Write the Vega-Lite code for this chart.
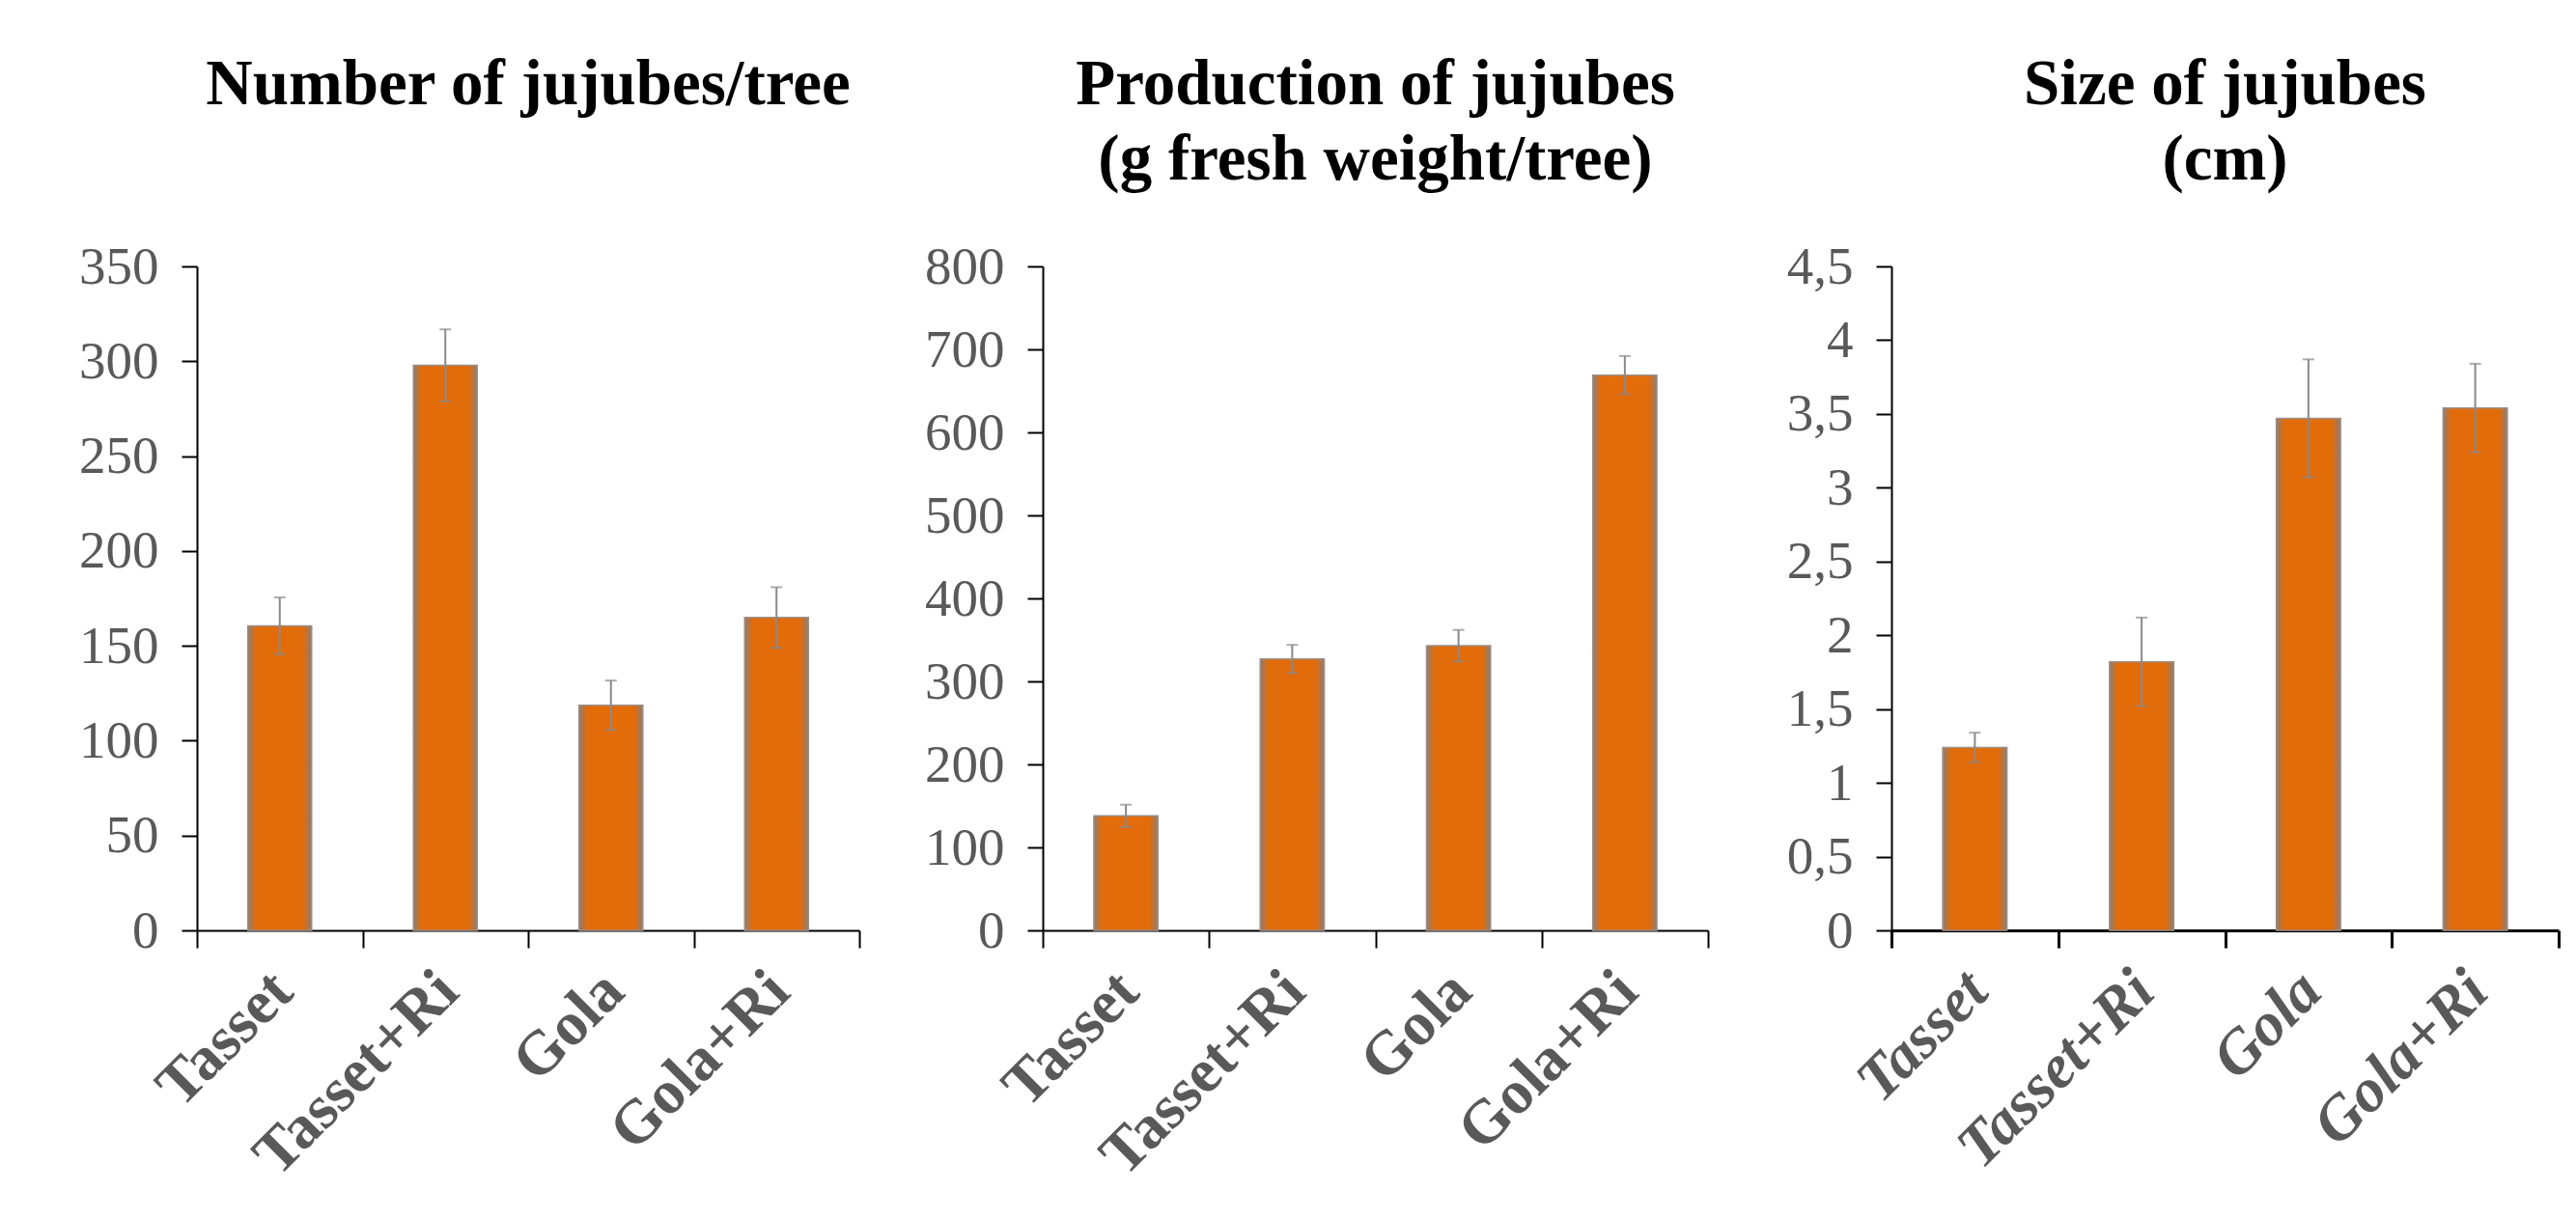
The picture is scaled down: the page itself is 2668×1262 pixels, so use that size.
{
  "$schema": "https://vega.github.io/schema/vega-lite/v6.json",
  "background": "white",
  "padding": {"left": 81, "top": 54, "right": 10, "bottom": 0},
  "spacing": 190,
  "bounds": "flush",
  "config": {
    "view": {"stroke": null},
    "font": "Liberation Serif",
    "title": {"fontSize": 67, "fontWeight": "bold", "color": "#000000", "font": "Liberation Serif", "lineHeight": 78, "frame": "group", "anchor": "middle", "baseline": "bottom", "offset": 49},
    "axis": {"grid": false, "title": null, "labelFont": "Liberation Serif", "labelColor": "#595959", "domainColor": "#000000", "tickColor": "#000000", "labelOverlap": false, "labelLimit": 1000},
    "axisY": {"labelFontSize": 55, "tickSize": 16, "tickWidth": 2, "domainWidth": 2, "labelPadding": 24},
    "axisX": {"labelFontSize": 64, "labelFontWeight": "bold", "labelAngle": -45, "tickBand": "extent", "tickSize": 18, "tickWidth": 2, "domainWidth": 2, "labelPadding": 12, "labelOffset": -20}
  },
  "datasets": {
    "number": [
      {"treatment": "Tasset", "value": 160.5, "err": 15},
      {"treatment": "Tasset+Ri", "value": 297.8, "err": 19},
      {"treatment": "Gola", "value": 118.7, "err": 13},
      {"treatment": "Gola+Ri", "value": 164.9, "err": 16}
    ],
    "production": [
      {"treatment": "Tasset", "value": 138, "err": 13.5},
      {"treatment": "Tasset+Ri", "value": 327, "err": 17},
      {"treatment": "Gola", "value": 343, "err": 19},
      {"treatment": "Gola+Ri", "value": 669, "err": 23}
    ],
    "size": [
      {"treatment": "Tasset", "value": 1.24, "err": 0.1},
      {"treatment": "Tasset+Ri", "value": 1.82, "err": 0.3},
      {"treatment": "Gola", "value": 3.47, "err": 0.4},
      {"treatment": "Gola+Ri", "value": 3.54, "err": 0.3}
    ]
  },
  "hconcat": [
    {
      "width": 686, "height": 688,
      "title": {"text": ["Number of jujubes/tree", " "]},
      "data": {"name": "number"},
      "encoding": {"x": {"field": "treatment", "type": "nominal", "sort": null, "title": null, "scale": {"paddingInner": 0, "paddingOuter": 0}}},
      "layer": [
        {
          "mark": {"type": "bar", "width": {"band": 0.385}, "stroke": "#9b8f88", "strokeWidth": 1.5,
            "color": {"gradient": "linear", "stops": [{"offset": 0, "color": "#8f7d72"}, {"offset": 0.13, "color": "#E26B0A"}, {"offset": 0.87, "color": "#E26B0A"}, {"offset": 1, "color": "#8f7d72"}]}},
          "encoding": {"y": {"field": "value", "type": "quantitative", "title": null, "scale": {"domain": [0, 350], "nice": false}, "axis": {"title": null, "values": [0, 50, 100, 150, 200, 250, 300, 350]}}}
        },
        {
          "mark": {"type": "errorbar", "ticks": true, "thickness": 2, "size": 12, "color": "#8a8a8a"},
          "encoding": {"y": {"field": "value", "type": "quantitative", "title": null}, "yError": {"field": "err", "title": null}}
        }
      ]
    },
    {
      "width": 689, "height": 688,
      "title": {"text": ["Production of jujubes", "(g fresh weight/tree)"]},
      "data": {"name": "production"},
      "encoding": {"x": {"field": "treatment", "type": "nominal", "sort": null, "title": null, "scale": {"paddingInner": 0, "paddingOuter": 0}}},
      "layer": [
        {
          "mark": {"type": "bar", "width": {"band": 0.385}, "stroke": "#9b8f88", "strokeWidth": 1.5,
            "color": {"gradient": "linear", "stops": [{"offset": 0, "color": "#8f7d72"}, {"offset": 0.13, "color": "#E26B0A"}, {"offset": 0.87, "color": "#E26B0A"}, {"offset": 1, "color": "#8f7d72"}]}},
          "encoding": {"y": {"field": "value", "type": "quantitative", "title": null, "scale": {"domain": [0, 800], "nice": false}, "axis": {"title": null, "values": [0, 100, 200, 300, 400, 500, 600, 700, 800]}}}
        },
        {
          "mark": {"type": "errorbar", "ticks": true, "thickness": 2, "size": 12, "color": "#8a8a8a"},
          "encoding": {"y": {"field": "value", "type": "quantitative", "title": null}, "yError": {"field": "err", "title": null}}
        }
      ]
    },
    {
      "width": 691, "height": 688,
      "title": {"text": ["Size of jujubes", "(cm)"]},
      "data": {"name": "size"},
      "encoding": {"x": {"field": "treatment", "type": "nominal", "sort": null, "title": null, "scale": {"paddingInner": 0, "paddingOuter": 0}, "axis": {"labelFontStyle": "italic", "domainWidth": 3, "tickWidth": 3}}},
      "layer": [
        {
          "mark": {"type": "bar", "width": {"band": 0.385}, "stroke": "#9b8f88", "strokeWidth": 1.5,
            "color": {"gradient": "linear", "stops": [{"offset": 0, "color": "#8f7d72"}, {"offset": 0.13, "color": "#E26B0A"}, {"offset": 0.87, "color": "#E26B0A"}, {"offset": 1, "color": "#8f7d72"}]}},
          "encoding": {"y": {"field": "value", "type": "quantitative", "title": null, "scale": {"domain": [0, 4.5], "nice": false}, "axis": {"title": null, "values": [0, 0.5, 1, 1.5, 2, 2.5, 3, 3.5, 4, 4.5], "labelExpr": "replace(format(datum.value, '~g'), '.', ',')"}}}
        },
        {
          "mark": {"type": "errorbar", "ticks": true, "thickness": 2, "size": 12, "color": "#8a8a8a"},
          "encoding": {"y": {"field": "value", "type": "quantitative", "title": null}, "yError": {"field": "err", "title": null}}
        }
      ]
    }
  ]
}
